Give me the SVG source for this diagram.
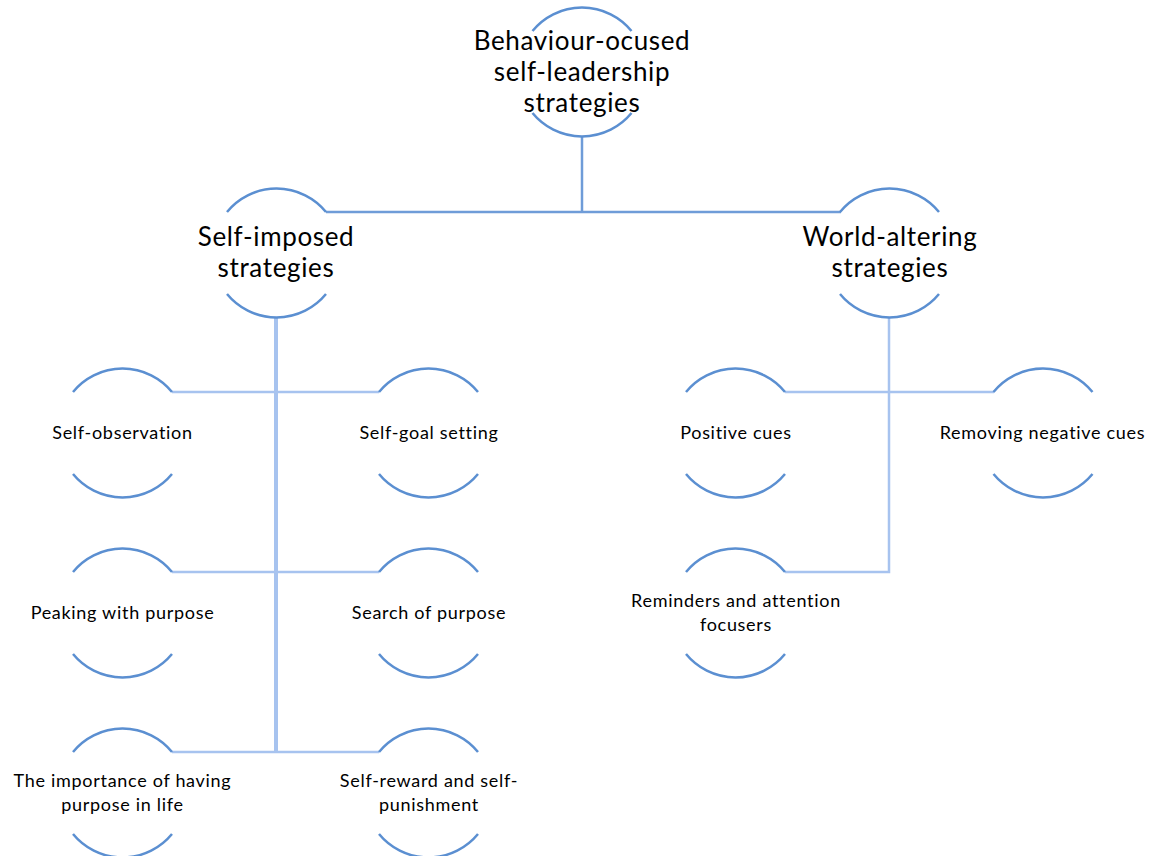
<svg xmlns="http://www.w3.org/2000/svg" width="1162" height="856" viewBox="0 0 1162 856">
  <style>
    .arc { fill: none; stroke: #5b8fd1; stroke-width: 2.5; }
    .lbl { font-family: Lato, "Open Sans", "Liberation Sans", sans-serif; fill: #000; text-anchor: middle; }
    .big { font-size: 26px; letter-spacing: 0.65px; }
    .small { font-size: 18px; letter-spacing: 0.7px; }
    .link { fill: none; stroke: #a7c3ef; stroke-width: 2.5; }
    .link-top { fill: none; stroke: #6f9cd8; stroke-width: 2.5; }
    .trunk { fill: none; stroke: #a7c3ef; stroke-width: 4; }
  </style>
  <defs>
    <!-- a node: two facing arcs of one circle, r = 64 -->
    <path id="ring" d="M-49.5,-41 A64,64 0 0 1 49.5,-41 M-49.5,41 A64,64 0 0 0 49.5,41"/>
  </defs>
  <rect width="1162" height="856" fill="#fff"/>

  <g id="connectors">
    <path class="link-top" d="M582,136 V212"/>
    <path class="link-top" d="M326,212 H841"/>
    <path class="trunk" d="M276,317 V753"/>
    <path class="link" d="M172,392 H379"/>
    <path class="link" d="M172,572 H379"/>
    <path class="link" d="M172,752 H379"/>
    <path class="link" d="M889,317 V572 H785"/>
    <path class="link" d="M785,392 H994"/>
  </g>

  <g id="root">
    <use href="#ring" class="arc" x="582" y="72"/>
    <text class="lbl big" x="582" y="50">Behaviour-ocused</text>
    <text class="lbl big" x="582" y="81">self-leadership</text>
    <text class="lbl big" x="582" y="112">strategies</text>
  </g>

  <g id="self-imposed">
    <use href="#ring" class="arc" x="276.5" y="253"/>
    <text class="lbl big" x="276" y="246">Self-imposed</text>
    <text class="lbl big" x="276" y="277">strategies</text>
  </g>

  <g id="world-altering">
    <use href="#ring" class="arc" x="889.5" y="253"/>
    <text class="lbl big" x="890" y="246">World-altering</text>
    <text class="lbl big" x="890" y="277">strategies</text>
  </g>

  <g id="self-observation">
    <use href="#ring" class="arc" x="122.5" y="433"/>
    <text class="lbl small" x="122.5" y="439">Self-observation</text>
  </g>

  <g id="self-goal-setting">
    <use href="#ring" class="arc" x="428.5" y="433"/>
    <text class="lbl small" x="429" y="439">Self-goal setting</text>
  </g>

  <g id="peaking-with-purpose">
    <use href="#ring" class="arc" x="122.5" y="613"/>
    <text class="lbl small" x="122.5" y="619">Peaking with purpose</text>
  </g>

  <g id="search-of-purpose">
    <use href="#ring" class="arc" x="428.5" y="613"/>
    <text class="lbl small" x="429" y="619">Search of purpose</text>
  </g>

  <g id="importance-of-purpose">
    <use href="#ring" class="arc" x="122.5" y="793"/>
    <text class="lbl small" x="122.5" y="787">The importance of having</text>
    <text class="lbl small" x="122.5" y="811">purpose in life</text>
  </g>

  <g id="self-reward">
    <use href="#ring" class="arc" x="428.5" y="793"/>
    <text class="lbl small" x="429" y="787">Self-reward and self-</text>
    <text class="lbl small" x="429" y="811">punishment</text>
  </g>

  <g id="positive-cues">
    <use href="#ring" class="arc" x="735.5" y="433"/>
    <text class="lbl small" x="736" y="439">Positive cues</text>
  </g>

  <g id="removing-negative-cues">
    <use href="#ring" class="arc" x="1043" y="433"/>
    <text class="lbl small" x="1042.5" y="439">Removing negative cues</text>
  </g>

  <g id="reminders">
    <use href="#ring" class="arc" x="735.5" y="613"/>
    <text class="lbl small" x="736" y="607">Reminders and attention</text>
    <text class="lbl small" x="736" y="631">focusers</text>
  </g>
</svg>
